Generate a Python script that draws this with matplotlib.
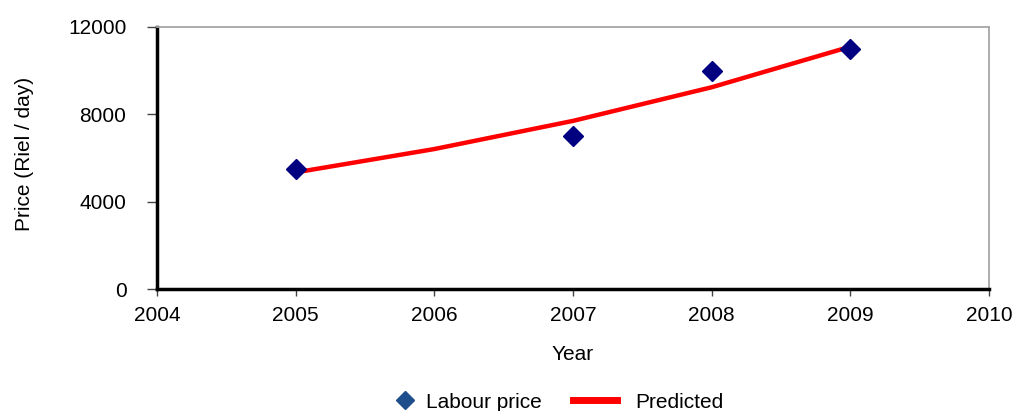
import matplotlib
matplotlib.use("Agg")
import matplotlib.pyplot as plt
from matplotlib.lines import Line2D

years = [2005, 2007, 2008, 2009]
labour_price = [5500, 7000, 10000, 11000]
pred_years = [2005, 2006, 2007, 2008, 2009]
predicted = [5340, 6410, 7700, 9240, 11100]
x_ticks = [2004, 2005, 2006, 2007, 2008, 2009, 2010]
y_ticks = [0, 4000, 8000, 12000]

plt.rcParams['font.family'] = ['Liberation Sans', 'DejaVu Sans']
FS = 15

fig = plt.figure(figsize=(10.21, 4.11), dpi=100)
ax = fig.add_axes([157/1021, 1-289/411, (989-157)/1021, (289-27)/411])

ax.plot(pred_years, predicted, color='#FF0000', lw=3.2, zorder=2, solid_capstyle='butt')
ax.plot(years, labour_price, linestyle='none', marker='D', markersize=10,
        color='#000080', zorder=3)

ax.set_xlim(2004, 2010)
ax.set_ylim(0, 12000)
ax.set_xticks(x_ticks)
ax.set_yticks(y_ticks)
ax.set_xticklabels([str(v) for v in x_ticks])
ax.set_yticklabels([str(v) for v in y_ticks])

for s in ['left', 'bottom']:
    ax.spines[s].set_color('black')
    ax.spines[s].set_linewidth(2.5)
for s in ['top', 'right']:
    ax.spines[s].set_color('#A6A6A6')
    ax.spines[s].set_linewidth(1.3)

ax.tick_params(axis='y', direction='out', length=7, width=1, color='#444444',
               labelsize=FS, pad=15)
ax.tick_params(axis='x', direction='out', length=5, width=1, color='#444444',
               labelsize=FS, pad=7)

ax.set_xlabel('Year', fontsize=FS)
ax.xaxis.set_label_coords(0.5, -0.215)
ax.set_ylabel('Price (Riel / day)', fontsize=FS)
ax.yaxis.set_label_coords(-0.148, 0.517)

leg_y = 1 - 402/411
h1 = Line2D([], [], linestyle='none', marker='D', markersize=9, color='#1F4E8C')
h2 = Line2D([], [], color='#FF0000', lw=5)
fig.legend([h1], ['Labour price'], loc='center left',
           bbox_to_anchor=(395/1021, leg_y), frameon=False, fontsize=FS,
           handlelength=1.0, handletextpad=0.5, borderpad=0, borderaxespad=0)
fig.legend([h2], ['Predicted'], loc='center left',
           bbox_to_anchor=(573/1021, leg_y), frameon=False, fontsize=FS,
           handlelength=2.12, handletextpad=0.87, borderpad=0, borderaxespad=0)

fig.savefig('out.png', dpi=100)
